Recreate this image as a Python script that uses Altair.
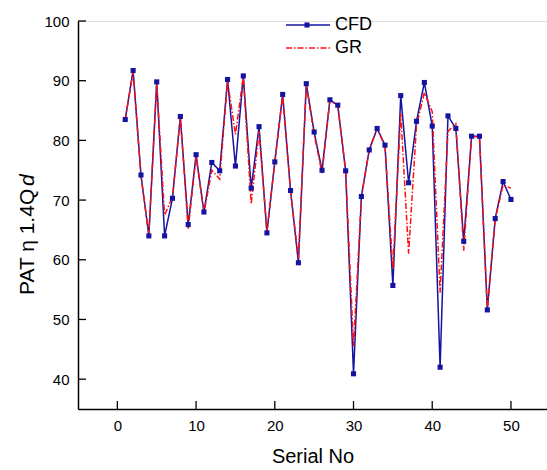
import altair as alt
import pandas as pd

# ---- data ----
serial = list(range(1, 51))
cfd = [83.5, 91.7, 74.2, 64.0, 89.8, 64.0, 70.3, 84.0, 65.9, 77.6,
       68.0, 76.3, 74.9, 90.2, 75.7, 90.8, 72.0, 82.3, 64.5, 76.4,
       87.7, 71.6, 59.5, 89.5, 81.4, 75.0, 86.8, 85.9, 74.9, 40.9,
       70.6, 78.4, 82.0, 79.2, 55.7, 87.5, 72.9, 83.2, 89.7, 82.4,
       42.0, 84.1, 82.0, 63.1, 80.7, 80.7, 51.6, 66.9, 73.1, 70.1]
gr = [83.5, 91.5, 74.0, 64.3, 89.5, 67.5, 70.5, 83.8, 65.2, 77.3,
      67.8, 75.0, 73.5, 90.0, 81.0, 90.7, 69.3, 81.5, 64.8, 76.3,
      87.5, 71.5, 60.2, 89.3, 81.0, 74.5, 86.7, 85.8, 75.0, 45.5,
      70.5, 78.5, 82.0, 79.0, 58.5, 84.5, 61.0, 82.5, 88.0, 84.8,
      54.5, 81.5, 82.8, 61.5, 80.6, 80.6, 51.8, 66.8, 72.5, 72.0]
x_ticks = [0, 10, 20, 30, 40, 50]
y_ticks = [40, 50, 60, 70, 80, 90, 100]
legend_labels = ["CFD", "GR"]
x_title = "Serial No"
y_title_main = "PAT η 1.4Q"
y_title_italic = "d"

BLUE = "#1414a0"
RED = "#ff1010"
FONT = "Liberation Sans"
W, H = 469, 388

df = pd.DataFrame({"serial": serial, "CFD": cfd, "GR": gr})
xs = alt.Scale(domain=[-5, 54.58], nice=False, zero=False)
ys = alt.Scale(domain=[35, 100], nice=False, zero=False)

x_axis = alt.Axis(values=x_ticks, ticks=False, grid=False, labelPadding=9,
                  labelFontSize=15, labelColor="black", labelFont=FONT, title=x_title,
                  titleFontSize=20, titleFontWeight="normal", titleColor="black",
                  titleFont=FONT, titlePadding=13, domainColor="black", domainWidth=1.5)
y_axis = alt.Axis(values=y_ticks, ticks=False, grid=False, labelPadding=9,
                  labelFontSize=15, labelColor="black", labelFont=FONT, title=None,
                  domainColor="black", domainWidth=1.5)

base = alt.Chart(df)
blue_line = base.mark_line(color=BLUE, strokeWidth=1.5).encode(
    x=alt.X("serial:Q", scale=xs, axis=x_axis),
    y=alt.Y("CFD:Q", scale=ys, axis=y_axis),
)
red_line = base.mark_line(color=RED, strokeWidth=1.5, strokeDash=[6, 2, 1.5, 2]).encode(
    x=alt.X("serial:Q", scale=xs, axis=x_axis), y=alt.Y("GR:Q", scale=ys, axis=y_axis)
)
squares = base.mark_square(size=26, color=BLUE, opacity=1).encode(
    x=alt.X("serial:Q", scale=xs, axis=x_axis), y=alt.Y("CFD:Q", scale=ys, axis=y_axis)
)

xt = alt.Chart(pd.DataFrame({"t": x_ticks})).mark_rule(color="black", strokeWidth=1.3).encode(
    x=alt.X("t:Q", scale=xs, axis=x_axis), y=alt.value(H - 8), y2=alt.value(H)
)
yt = alt.Chart(pd.DataFrame({"t": y_ticks})).mark_rule(color="black", strokeWidth=1.3).encode(
    y=alt.Y("t:Q", scale=ys, axis=y_axis), x=alt.value(0), x2=alt.value(8)
)

# y title with italic d
yt1 = alt.Chart(pd.DataFrame({"s": [y_title_main]})).mark_text(
    angle=270, align="left", baseline="middle", fontSize=21, font=FONT, color="black"
).encode(text="s:N", x=alt.value(-50), y=alt.value(274))
yt2 = alt.Chart(pd.DataFrame({"s": [y_title_italic]})).mark_text(
    angle=270, align="left", baseline="middle", fontSize=21, font=FONT, color="black",
    fontStyle="italic"
).encode(text="s:N", x=alt.value(-50), y=alt.value(165))

# legend
leg = []
for i, (lab, col) in enumerate(zip(legend_labels, [BLUE, RED])):
    ly = 4 + 23 * i
    ldf = pd.DataFrame({"label": [lab]})
    rule_kw = dict(color=col, strokeWidth=1.5)
    if lab == "GR":
        rule_kw["strokeDash"] = [6, 2, 1.5, 2]
    leg.append(alt.Chart(ldf).mark_rule(**rule_kw).encode(
        x=alt.value(208), x2=alt.value(252), y=alt.value(ly)))
    if lab == "CFD":
        leg.append(alt.Chart(ldf).mark_square(size=26, color=BLUE, opacity=1).encode(
            x=alt.value(229), y=alt.value(ly)))
    leg.append(alt.Chart(ldf).mark_text(align="left", baseline="middle", fontSize=18,
                                        font=FONT, color="black").encode(
        x=alt.value(257), y=alt.value(ly), text="label:N"))

chart = alt.layer(blue_line, red_line, squares, xt, yt, yt1, yt2, *leg).properties(
    width=W, height=H,
    autosize=alt.AutoSizeParams(type="none"),
    padding={"left": 78, "top": 21, "right": 0, "bottom": 61},
).configure_view(stroke=None).configure(font=FONT, background="white")

chart.save("out.html", embed_options={"renderer": "svg", "actions": False})
